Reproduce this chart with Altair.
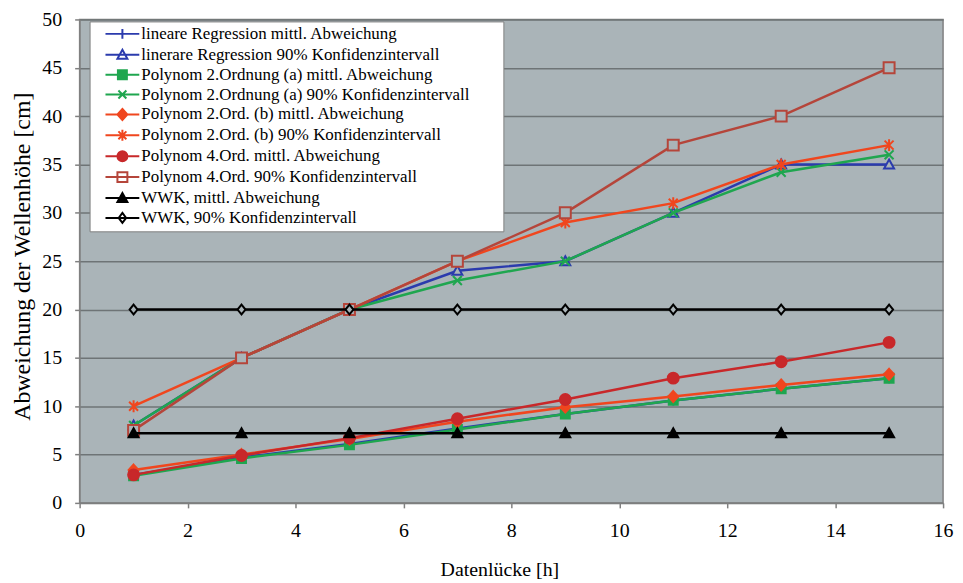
import altair as alt
import pandas as pd

hours = [1, 3, 5, 7, 9, 11, 13, 15]

series_names = [
    "lineare Regression mittl. Abweichung",
    "linerare Regression 90% Konfidenzintervall",
    "Polynom 2.Ordnung (a) mittl. Abweichung",
    "Polynom 2.Ordnung (a) 90% Konfidenzintervall",
    "Polynom 2.Ord. (b) mittl. Abweichung",
    "Polynom 2.Ord. (b) 90% Konfidenzintervall",
    "Polynom 4.Ord. mittl. Abweichung",
    "Polynom 4.Ord. 90% Konfidenzintervall",
    "WWK, mittl. Abweichung",
    "WWK, 90% Konfidenzintervall",
]

lin_mean = [2.9, 4.7, 6.1, 7.7, 9.2, 10.6, 11.8, 12.9]
lin_90 = [8, 15, 20, 24, 25, 30, 35, 35]
p2a_mean = [2.8, 4.6, 6.0, 7.6, 9.2, 10.6, 11.8, 12.9]
p2a_90 = [8, 15, 20, 23, 25, 30, 34.2, 36]
p2b_mean = [3.4, 5.0, 6.6, 8.4, 9.9, 11.0, 12.2, 13.3]
p2b_90 = [10, 15, 20, 25, 29, 31, 35, 37]
p4_mean = [2.9, 4.9, 6.7, 8.7, 10.7, 12.9, 14.6, 16.6]
p4_90 = [7.5, 15, 20, 25, 30, 37, 40, 45]
wwk_mean = [7.2, 7.2, 7.2, 7.2, 7.2, 7.2, 7.2, 7.2]
wwk_90 = [20, 20, 20, 20, 20, 20, 20, 20]

series_values = [lin_mean, lin_90, p2a_mean, p2a_90, p2b_mean, p2b_90,
                 p4_mean, p4_90, wwk_mean, wwk_90]

BLUE = "#2b3bad"
GREEN = "#1fa64f"
RED = "#f0461e"
DRED = "#c8282a"
BRED = "#b5453a"
BLACK = "#000000"
BG = "#aab4b8"

colors = [BLUE, BLUE, GREEN, GREEN, RED, RED, DRED, BRED, BLACK, BLACK]

rows = []
for name, vals in zip(series_names, series_values):
    for h, v in zip(hours, vals):
        rows.append({"series": name, "h": h, "v": v})
df = pd.DataFrame(rows)

# data marker shapes (unit = 5 px at size 100)
TRI = "M0,-1L1,0.8L-1,0.8Z"
PLUS = "M-1,0L1,0M0,-1L0,1"
SQ = "M-0.9,-0.9L0.9,-0.9L0.9,0.9L-0.9,0.9Z"
XM = "M-0.9,-0.9L0.9,0.9M-0.9,0.9L0.9,-0.9"
DIA = "M0,-1.1L1,0L0,1.1L-1,0Z"
AST = "M-0.9,-0.9L0.9,0.9M-0.9,0.9L0.9,-0.9M0,-1.2L0,1.2"
OSQ = "M-1.1,-1.1L1.1,-1.1L1.1,1.1L-1.1,1.1Z"
ODIA = "M0,-1L0.8,0L0,1L-0.8,0Z"

markers = [
    (PLUS, 100, "transparent"),
    (TRI, 100, BG),
    (SQ, 100, GREEN),
    (XM, 100, "transparent"),
    (DIA, 100, RED),
    (AST, 100, "transparent"),
    ("circle", 120, DRED),
    (OSQ, 100, BG),
    (TRI, 100, BLACK),
    (ODIA, 100, BG),
]


# legend symbols: a line through a marker; solid markers drawn as dense strokes
def f(v):
    s = ("%.2f" % v).rstrip("0").rstrip(".")
    return "0" if s in ("", "-0", "-") else s


def hatch(y0, y1, halfwidth):
    out = ""
    y = y0
    while y <= y1 + 1e-9:
        w = halfwidth(y)
        out += "M%s,%sL%s,%s" % (f(-w), f(y), f(w), f(y))
        y += 0.3
    return out


def circ(r):
    return "M%s,0A%s,%s,0,1,1,%s,0A%s,%s,0,1,1,%s,0" % (f(r), f(r), f(r), f(-r), f(r), f(r), f(r))


LN = "M-3.4,0L3.4,0"
SOLID_SQ = SQ + hatch(-0.8, 0.8, lambda y: 0.9)
SOLID_DIA = DIA + hatch(-0.9, 0.9, lambda y: 1 - abs(y) / 1.1)
SOLID_TRI = TRI + hatch(-0.7, 0.8, lambda y: (y + 1) / 1.8)
SOLID_CIRC = circ(1) + circ(0.7) + circ(0.4) + circ(0.15)

legend_paths = [
    LN + "M0,-1L0,1",
    LN + TRI,
    LN + SOLID_SQ,
    LN + "M-0.8,-0.8L0.8,0.8M-0.8,0.8L0.8,-0.8",
    LN + SOLID_DIA,
    LN + "M-0.8,-0.8L0.8,0.8M-0.8,0.8L0.8,-0.8M0,-1.1L0,1.1",
    LN + SOLID_CIRC,
    LN + "M-1,-1L1,-1L1,1L-1,1Z",
    LN + SOLID_TRI,
    LN + "M0,-1L0.75,0L0,1L-0.75,0Z",
]

FONT = "Liberation Serif"

x_enc = alt.X(
    "h:Q",
    scale=alt.Scale(domain=[0, 16], nice=False),
    axis=alt.Axis(
        values=list(range(0, 17, 2)), grid=False, tickSize=5, tickColor="#808080",
        tickWidth=1.5, domainColor="#808080", labelFont=FONT, labelFontSize=20,
        labelColor="black", labelPadding=23, labelBaseline="middle",
        labelFlush=False, labelOverlap=False,
        titleFont=FONT, titleFontSize=20, titleFontWeight="normal", titleColor="black",
        titleX=422, titleY=67, titleBaseline="middle", titleAlign="center",
    ),
    title="Datenlücke [h]",
)
y_enc = alt.Y(
    "v:Q",
    scale=alt.Scale(domain=[0, 50], nice=False),
    axis=alt.Axis(
        values=list(range(0, 51, 5)), grid=True, gridColor="#6e7476", gridWidth=1.5,
        tickSize=5, tickColor="#808080", tickWidth=1.5, domainColor="#808080",
        labelFont=FONT, labelFontSize=20, labelColor="black", labelPadding=13,
        labelBaseline="middle", labelFlush=False, labelOverlap=False,
        titleFont=FONT, titleFontSize=24, titleFontWeight="normal", titleColor="black",
        titleX=-57, titleY=238, titleBaseline="middle", titleAlign="center",
    ),
    title="Abweichung der Wellenhöhe [cm]",
)

base = alt.Chart(df)

series_layers = []
for name, col, (shp, sz, fl) in zip(series_names, colors, markers):
    sub = base.transform_filter(alt.datum.series == name)
    series_layers.append(sub.mark_line(color=col, strokeWidth=2.5).encode(x=x_enc, y=y_enc))
    series_layers.append(
        sub.mark_point(shape=shp, size=sz, filled=True, fill=fl, stroke=col,
                       strokeWidth=2, opacity=1).encode(x=x_enc, y=y_enc)
    )

# trailing no-break spaces (kept by a zero-width char) widen the legend box
pad = "\u00a0" * 7 + "\u200b"
leg = alt.Legend(
    orient="none", legendX=10, legendY=2, title=None, direction="vertical",
    fillColor="white", strokeColor="#808080", padding=4,
    symbolSize=100, symbolStrokeWidth=2, symbolOpacity=1,
    symbolOffset=20.5, labelOffset=10.5,
    labelFont=FONT, labelFontSize=17, labelColor="black", labelLimit=800,
    rowPadding=2, labelExpr="datum.label + '" + pad + "'",
)

# invisible marks, only used to carry the legend
legend_layer = base.mark_point(filled=False, opacity=0, strokeWidth=2).encode(
    x=x_enc, y=y_enc,
    shape=alt.Shape("series:N", scale=alt.Scale(domain=series_names, range=legend_paths), legend=leg),
    stroke=alt.Stroke("series:N", scale=alt.Scale(domain=series_names, range=colors), legend=leg),
)

chart = alt.layer(*series_layers, legend_layer).properties(
    width=868, height=486,
    autosize=alt.AutoSizeParams(type="none"),
    padding={"left": 72, "top": 10, "right": 12, "bottom": 75},
    view=alt.ViewBackground(fill=BG, stroke="#808080", strokeWidth=1.5),
)

chart.save("out.html", embed_options={"renderer": "svg", "actions": False})
